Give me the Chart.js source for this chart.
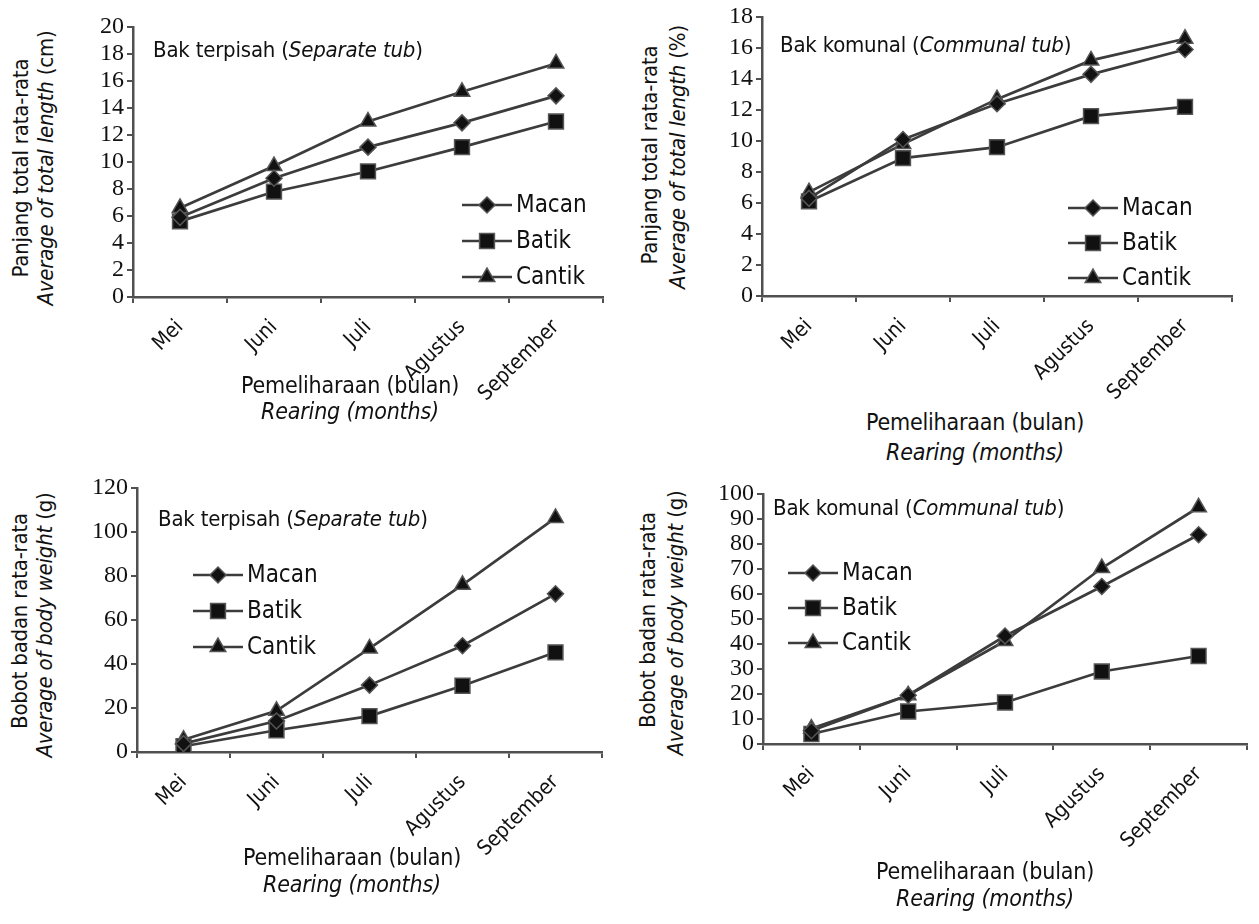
<!DOCTYPE html>
<html>
<head>
<meta charset="utf-8">
<script src="https://cdn.jsdelivr.net/npm/chart.js@4.4.1/dist/chart.umd.min.js"></script>
<style>
  body { margin: 0; background: #fff; width: 1259px; height: 924px; position: relative; overflow: hidden;
         font-family: "DejaVu Sans Condensed", "Liberation Sans", sans-serif; color: #111; }
  canvas { position: absolute; }
  .t { position: absolute; white-space: nowrap; font-size: 22px; line-height: 1; letter-spacing: -0.2px; }
  .rot { transform: translate(-50%, -50%) rotate(-90deg); }
  .ctr { transform: translate(-50%, -50%); }
  .mid { transform: translateY(-50%); }
</style>
</head>
<body>
<canvas id="lengthSeparate" width="555" height="393" style="left:63px;top:7px"></canvas>
<canvas id="lengthCommunal" width="555" height="400" style="left:692px;top:0px"></canvas>
<canvas id="weightSeparate" width="550" height="395" style="left:67px;top:470px"></canvas>
<canvas id="weightCommunal" width="566" height="395" style="left:693px;top:470px"></canvas>

<div class="t rot" style="left:21px;top:168px">Panjang total rata-rata</div>
<div class="t rot" style="left:46px;top:168px"><i>Average of total length</i> (cm)</div>
<div class="t mid" style="left:153px;top:50px">Bak terpisah (<i>Separate tub</i>)</div>
<div class="t ctr" style="left:350px;top:385px;font-size:23px">Pemeliharaan (bulan)</div>
<div class="t ctr" style="left:350px;top:411px;font-size:23px"><i>Rearing (months)</i></div>

<div class="t rot" style="left:650px;top:155px">Panjang total rata-rata</div>
<div class="t rot" style="left:678px;top:157px"><i>Average of total length</i> (%)</div>
<div class="t mid" style="left:780px;top:45px">Bak komunal (<i>Communal tub</i>)</div>
<div class="t ctr" style="left:975px;top:422px;font-size:23px">Pemeliharaan (bulan)</div>
<div class="t ctr" style="left:975px;top:452px;font-size:23px"><i>Rearing (months)</i></div>

<div class="t rot" style="left:20px;top:621px">Bobot badan rata-rata</div>
<div class="t rot" style="left:45px;top:625px"><i>Average of body weight</i> (g)</div>
<div class="t mid" style="left:158px;top:519px">Bak terpisah (<i>Separate tub</i>)</div>
<div class="t ctr" style="left:352px;top:857px;font-size:23px">Pemeliharaan (bulan)</div>
<div class="t ctr" style="left:352px;top:884px;font-size:23px"><i>Rearing (months)</i></div>

<div class="t rot" style="left:648px;top:620px">Bobot badan rata-rata</div>
<div class="t rot" style="left:676px;top:623px"><i>Average of body weight</i> (g)</div>
<div class="t mid" style="left:773px;top:508px">Bak komunal (<i>Communal tub</i>)</div>
<div class="t ctr" style="left:985px;top:871px;font-size:23px">Pemeliharaan (bulan)</div>
<div class="t ctr" style="left:985px;top:898px;font-size:23px"><i>Rearing (months)</i></div>

<script>
const months = ["Mei", "Juni", "Juli", "Agustus", "September"];
const seriesNames = ["Macan", "Batik", "Cantik"];

// total length (cm), separate tub
const lengthSeparateMacan = [5.9, 8.8, 11.1, 12.9, 14.9];
const lengthSeparateBatik = [5.6, 7.8, 9.3, 11.1, 13.0];
const lengthSeparateCantik = [6.6, 9.7, 13.0, 15.2, 17.3];

// total length, communal tub
const lengthCommunalMacan = [6.3, 10.1, 12.4, 14.3, 15.9];
const lengthCommunalBatik = [6.1, 8.9, 9.6, 11.6, 12.2];
const lengthCommunalCantik = [6.7, 9.8, 12.7, 15.2, 16.6];

// body weight (g), separate tub
const weightSeparateMacan = [3.8, 14.1, 30.4, 48.3, 71.9];
const weightSeparateBatik = [2.6, 9.9, 16.3, 30.1, 45.3];
const weightSeparateCantik = [5.6, 18.7, 47.1, 76.0, 106.4];

// body weight (g), communal tub
const weightCommunalMacan = [5.3, 19.5, 43.2, 63.0, 83.7];
const weightCommunalBatik = [4.0, 13.0, 16.6, 29.0, 35.2];
const weightCommunalCantik = [6.2, 19.5, 41.2, 70.4, 94.7];

const LINE_COLOR = "#3c3c3c";
const AXIS_COLOR = "#505050";
const TEXT_FONT = "'DejaVu Sans Condensed', 'Liberation Sans', sans-serif";
const NUMBER_FONT = "'Liberation Serif', 'DejaVu Serif', serif";

const markerStyles = [
  { pointStyle: "rectRot", pointRadius: 8 },
  { pointStyle: "rect", pointRadius: 10.5 },
  { pointStyle: "triangle", pointRadius: 9 },
];

const insideLegend = {
  id: "insideLegend",
  afterDraw(chart, args, opts) {
    if (!opts || opts.x === undefined) return;
    const ctx = chart.ctx;
    ctx.save();
    chart.data.datasets.forEach((ds, i) => {
      const y = opts.y + i * opts.gap;
      ctx.strokeStyle = ds.borderColor;
      ctx.lineWidth = ds.borderWidth;
      ctx.beginPath();
      ctx.moveTo(opts.x, y);
      ctx.lineTo(opts.x + opts.len, y);
      ctx.stroke();
      ctx.fillStyle = ds.pointBackgroundColor;
      ctx.strokeStyle = ds.pointBorderColor;
      ctx.lineWidth = ds.pointBorderWidth;
      Chart.helpers.drawPoint(ctx, {
        pointStyle: ds.pointStyle,
        radius: ds.pointRadius,
        rotation: 0,
        borderWidth: ds.pointBorderWidth,
      }, opts.x + opts.len / 2, y);
      ctx.fillStyle = "#111";
      ctx.font = `24px ${TEXT_FONT}`;
      ctx.textBaseline = "middle";
      ctx.textAlign = "left";
      ctx.fillText(ds.label, opts.x + opts.len + 4, y + 1);
    });
    ctx.restore();
  },
};

function buildDatasets(values) {
  return values.map((data, idx) => ({
    label: seriesNames[idx],
    data,
    borderColor: LINE_COLOR,
    borderWidth: 2.7,
    pointBackgroundColor: "#111",
    pointBorderColor: "#555",
    pointBorderWidth: 1.5,
    pointStyle: markerStyles[idx].pointStyle,
    pointRadius: markerStyles[idx].pointRadius,
    tension: 0,
  }));
}

function buildChart(id, values, yMax, yStep, box, legend) {
  const ctx = document.getElementById(id);
  return new Chart(ctx, {
    type: "line",
    data: { labels: months, datasets: buildDatasets(values) },
    plugins: [insideLegend],
    options: {
      responsive: false,
      animation: false,
      events: [],
      layout: { padding: { top: box.top, right: box.right, left: 0, bottom: 0 } },
      plugins: {
        legend: { display: false },
        tooltip: { enabled: false },
        insideLegend: legend,
      },
      scales: {
        x: {
          type: "category",
          offset: true,
          grid: { offset: true, drawOnChartArea: false, drawTicks: true, tickLength: 6, color: AXIS_COLOR, lineWidth: 2 },
          border: { display: true, color: AXIS_COLOR, width: 2.5 },
          ticks: { color: "#111", font: { family: TEXT_FONT, size: 21 }, minRotation: 45, maxRotation: 45, padding: 12, autoSkip: false },
          afterFit(scale) { scale.height = box.xHeight; },
        },
        y: {
          min: 0,
          max: yMax,
          grid: { drawOnChartArea: false, drawTicks: true, tickLength: 6, color: AXIS_COLOR, lineWidth: 2 },
          border: { display: true, color: AXIS_COLOR, width: 2.5 },
          ticks: {
            count: yMax / yStep + 1,
            autoSkip: false,
            color: "#111",
            font: { family: NUMBER_FONT, size: 24, lineHeight: 1 },
            padding: 3,
          },
          afterFit(scale) { scale.width = box.yWidth; },
        },
      },
    },
  });
}

buildChart("lengthSeparate",
  [lengthSeparateMacan, lengthSeparateBatik, lengthSeparateCantik], 20, 2,
  { top: 20, right: 15, xHeight: 103, yWidth: 70 },
  { x: 462 - 63, y: 205 - 7, gap: 36, len: 50 });

buildChart("lengthCommunal",
  [lengthCommunalMacan, lengthCommunalBatik, lengthCommunalCantik], 18, 2,
  { top: 17, right: 15, xHeight: 104, yWidth: 70 },
  { x: 1068 - 692, y: 208, gap: 35, len: 50 });

buildChart("weightSeparate",
  [weightSeparateMacan, weightSeparateBatik, weightSeparateCantik], 120, 20,
  { top: 18, right: 15, xHeight: 113, yWidth: 70 },
  { x: 193 - 67, y: 575 - 470, gap: 36, len: 50 });

buildChart("weightCommunal",
  [weightCommunalMacan, weightCommunalBatik, weightCommunalCantik], 100, 10,
  { top: 24, right: 0, xHeight: 121, yWidth: 70 },
  { x: 788 - 693, y: 573 - 470, gap: 35, len: 50 });
</script>
</body>
</html>
